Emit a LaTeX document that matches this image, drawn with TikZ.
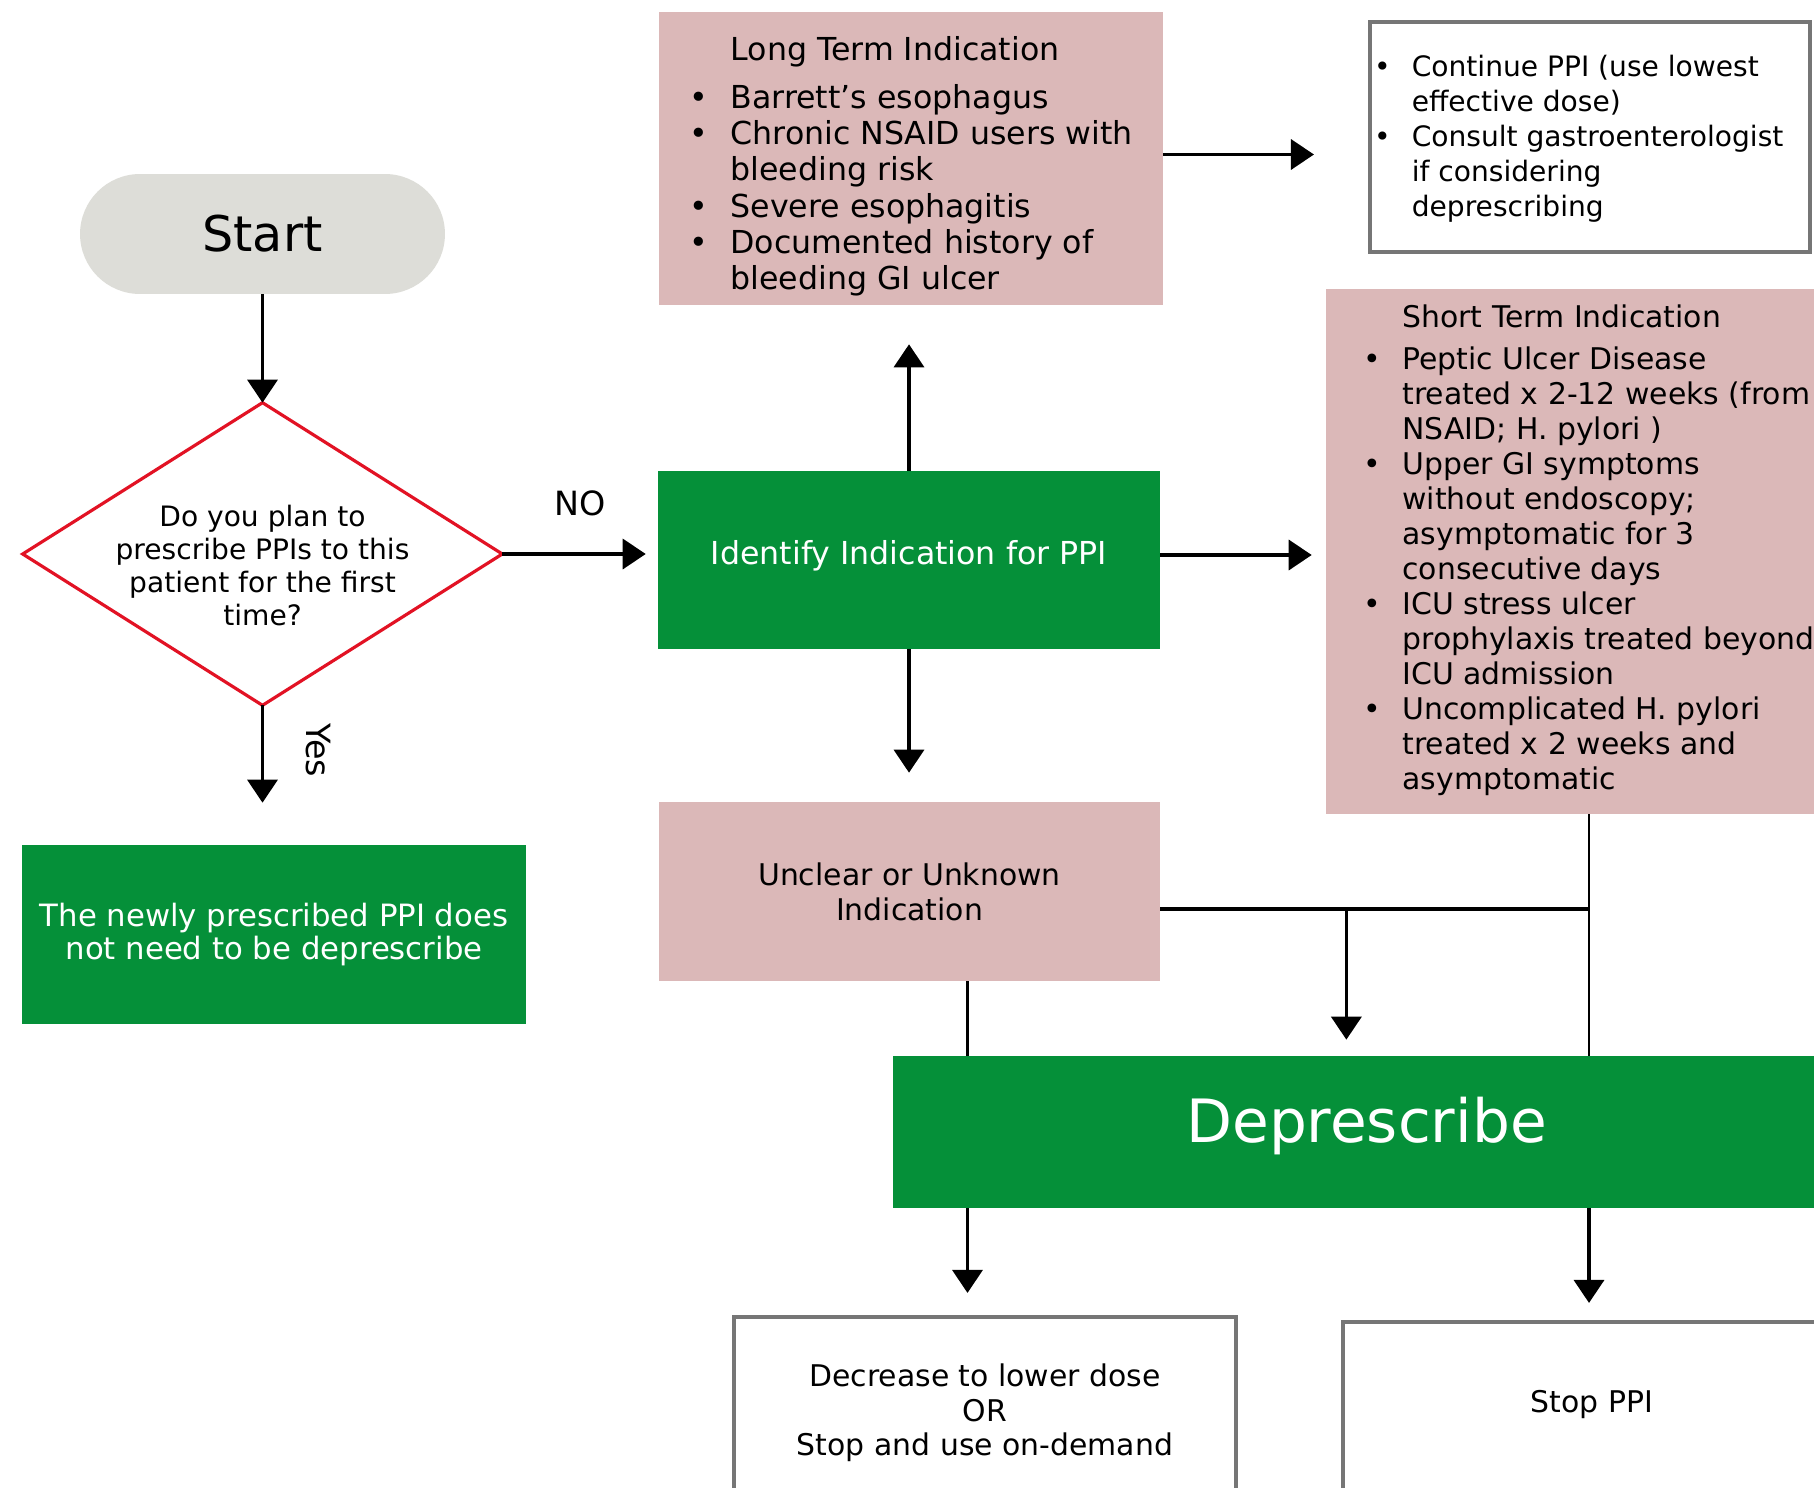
\documentclass[tikz,border=0pt]{standalone}
\usepackage{fontspec}
\setmainfont{DejaVu Sans}
\usetikzlibrary{arrows.meta}
\definecolor{boxgreen}{RGB}{5,144,57}
\definecolor{boxpink}{RGB}{219,184,184}
\definecolor{startgray}{RGB}{221,221,216}
\definecolor{askred}{RGB}{226,18,36}
\definecolor{framegray}{RGB}{118,118,118}
\tikzset{
  arr/.style={-{Triangle[width=0.6cm,length=0.46cm]}, line width=2pt},
  link/.style={line width=1.5pt},
  pinkbox/.style={fill=boxpink, inner sep=0pt},
  greenbox/.style={fill=boxgreen, text=white, inner sep=0pt},
  outbox/.style={draw=framegray, line width=2.4pt, fill=white, inner sep=0pt},
  lbl/.style={inner sep=0pt, font=\fontsize{19}{21}\selectfont},
}
\newcommand\bul{\textbullet}
\newcommand\fsz[2]{\fontsize{#1}{#2}\selectfont}
\newcommand\lift[2]{\raisebox{#1}[\height][\depth]{#2}}

\begin{document}
\begin{tikzpicture}[x=0.02cm, y=-0.02cm]
    % page, in pixels of the reference
    \useasboundingbox (0,0) rectangle (1814,1487);
    \fill[white] (0,0) rectangle (1814,1487);
    % Left column
    \node[fill=startgray, rounded corners=1.2cm, minimum width=7.3cm, minimum height=2.4cm,
          font=\fsz{28}{32}] (start) at (262.5,234) {Start};
    \node[inner sep=0pt, minimum width=9.58cm, minimum height=6.04cm, font=\fsz{16}{18.8}]
          (ask) at (262.5,554) {\raisebox{-0.46cm}[0pt][0pt]{\begin{tabular}{@{}c@{}}
          Do you plan to\\ prescribe PPIs to this\\ patient for the first\\ time?\end{tabular}}};
    \draw[askred, line width=1.8pt] (ask.north) -- (ask.east) -- (ask.south) -- (ask.west) -- cycle;
    \node[greenbox, minimum width=10.08cm, minimum height=3.58cm, font=\fsz{17.5}{19}, align=center]
          (newly) at (274,934.5) {The newly prescribed PPI does\\ not need to be deprescribe};
    % Middle column
    \node[greenbox, minimum width=10.04cm, minimum height=3.56cm, font=\fsz{18}{20}]
          (ident) at (909,560) {\lift{0.08cm}{Identify Indication for PPI}};
    \node[pinkbox, minimum width=10.08cm, minimum height=5.86cm, font=\fsz{18}{20.5}]
          (longterm) at (911,158.5) {%
      \begin{tabular}{@{}c@{\hspace{13pt}}l@{}}
        \rule{0pt}{0.87cm} & Long Term Indication\\[7pt]
        \bul & Barrett's esophagus\\
        \bul & Chronic NSAID users with\\
             & bleeding risk\\
        \bul & Severe esophagitis\\
        \bul & Documented history of\\
             & bleeding GI ulcer
      \end{tabular}};
    \node[pinkbox, minimum width=10.02cm, minimum height=3.58cm, font=\fsz{17}{20}, align=center]
          (unclear) at (909.5,891.5) {Unclear or Unknown\\ Indication};
    % Right column
    \node[outbox, minimum width=8.8cm, minimum height=4.6cm, font=\fsz{16}{19.8}]
          (cont) at (1590,137) {%
      \lift{-0.05cm}{\begin{tabular}{@{}c@{\hspace{12pt}}l@{\hspace{0.45cm}}}
        \bul & Continue PPI (use lowest\\
             & effective dose)\\
        \bul & Consult gastroenterologist\\
             & if considering\\
             & deprescribing
      \end{tabular}}};
    \node[pinkbox, minimum width=10.52cm, minimum height=10.5cm, font=\fsz{17}{19.9}]
          (shortterm) at (1589,551.5) {%
      \begin{tabular}{@{}c@{\hspace{12pt}}l@{}}
        & Short Term Indication\\[4pt]
        \bul & Peptic Ulcer Disease\\
             & treated x 2-12 weeks (from\\
             & NSAID; H. pylori )\\
        \bul & Upper GI symptoms\\
             & without endoscopy;\\
             & asymptomatic for 3\\
             & consecutive days\\
        \bul & ICU stress ulcer\\
             & prophylaxis treated beyond\\
             & ICU admission\\
        \bul & Uncomplicated H. pylori\\
             & treated x 2 weeks and\\
             & asymptomatic
      \end{tabular}};
    % Bottom row
    \node[greenbox, minimum width=18.94cm, minimum height=3.04cm, font=\fsz{34}{38}]
          (depre) at (1366.5,1132) {\lift{0.12cm}{Deprescribe}};
    \node[outbox, minimum width=10.04cm, minimum height=3.84cm, font=\fsz{17}{19.6}, align=center]
          (decr) at (985,1413) {Decrease to lower dose\\ OR\\ Stop and use on-demand};
    \node[outbox, minimum width=9.96cm, minimum height=3.44cm, font=\fsz{17}{19.6}]
          (stop) at (1592,1408) {\lift{0.07cm}{Stop PPI}};
    % Connectors
    \draw[arr] (start) -- (ask.north);
    \draw[arr, shorten >=0.24cm] (ask.east) -- node[lbl, midway, above=0.72cm] (nolbl) {NO}
          (ask.east -| ident.west);
    \draw[arr, shorten >=0.84cm] (ask.south) -- (ask.south |- newly.north);
    \node[lbl, rotate=-90] (yeslbl) at (318,750) {Yes};
    \draw[arr, shorten >=0.78cm] (ident.north) -- (ident.north |- longterm.south);
    \draw[arr, shorten >=1.08cm] ([yshift=0.08cm]longterm.east) -- ([yshift=0.08cm]longterm.east -| cont.west);
    \draw[arr, shorten >=0.28cm] ([yshift=0.1cm]ident.east) -- ([yshift=0.1cm]ident.east -| shortterm.west);
    \draw[arr, shorten >=0.58cm] (ident.south) -- (ident.south |- unclear.north);
    % Merge into Deprescribe
    \coordinate (mid) at ([yshift=-0.35cm]unclear.east);
    \coordinate (jn) at (shortterm.south |- mid);
    \draw[line width=2pt] (mid) -- coordinate[pos=0.434] (br) (jn);
    \draw[link] (shortterm.south) -- (shortterm.south |- depre.north);
    \draw[arr, shorten >=0.32cm] (br) -- (br |- depre.north);
    \coordinate (lft) at ([xshift=1.16cm]unclear.south);
    \draw[link] (lft) -- (lft |- depre.north);
    \draw[arr, shorten >=0.44cm] (lft |- depre.south) -- (lft |- decr.north);
    \draw[arr, shorten >=0.34cm] (shortterm.south |- depre.south) -- (shortterm.south |- stop.north);
\end{tikzpicture}
\end{document}
